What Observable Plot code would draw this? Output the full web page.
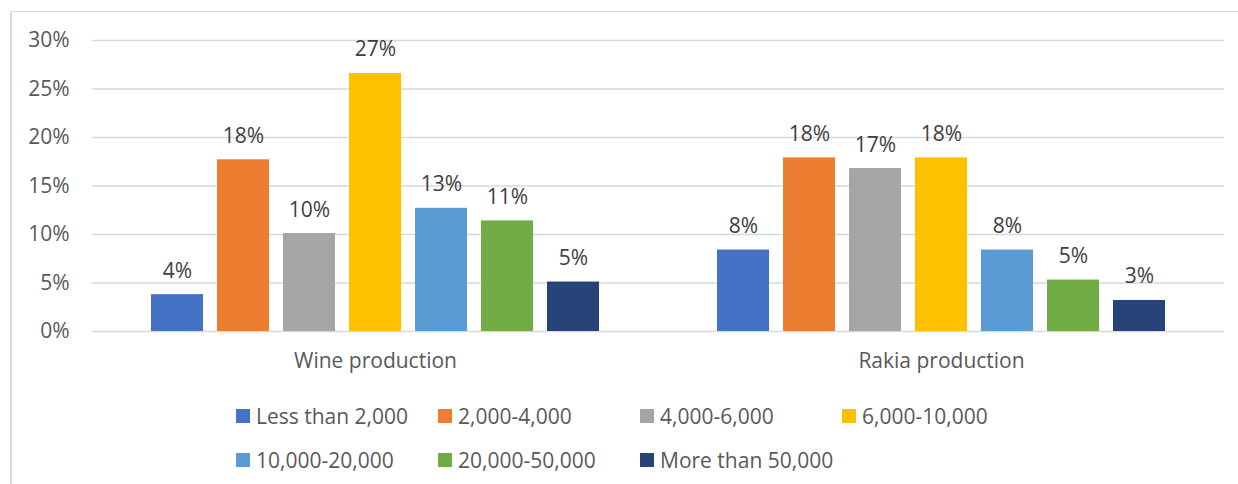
<!DOCTYPE html>
<html><head><meta charset="utf-8">
<script src="https://cdn.jsdelivr.net/npm/d3@7"></script>
<script src="https://cdn.jsdelivr.net/npm/@observablehq/plot@0.6"></script>
<style>
body{margin:0;background:#fff;font-family:"Open Sans",sans-serif;}
#wrap{position:relative;width:1238px;height:484px;overflow:hidden;background:#fff;}
#frame{position:absolute;left:10px;top:11px;width:1300px;height:600px;border-top:1px solid #d9d9d9;border-left:2px solid #d9d9d9;}
#chart{position:absolute;left:0;top:0;}
#legend{position:absolute;left:0;top:0;}
.item{position:absolute;display:flex;align-items:center;height:30px;font-size:21px;color:#595959;white-space:nowrap;}
.sw{width:14px;height:14px;margin-right:6px;flex:none;}
</style></head><body>
<div id="wrap"><div id="frame"></div><div id="chart"></div><div id="legend"></div></div>
<script>
const groups = ["Wine production", "Rakia production"];
const series = ["Less than 2,000", "2,000-4,000", "4,000-6,000", "6,000-10,000", "10,000-20,000", "20,000-50,000", "More than 50,000"];
const wineValues = [3.8, 17.7, 10.1, 26.6, 12.7, 11.4, 5.1];
const rakiaValues = [8.4, 17.9, 16.8, 17.9, 8.4, 5.3, 3.2];
const colors = ["#4472C4", "#ED7D31", "#A5A5A5", "#FFC000", "#5B9BD5", "#70AD47", "#264478"];
const yTicks = [0, 5, 10, 15, 20, 25, 30];

const rows = [];
series.forEach((s, i) => rows.push({group: groups[0], series: s, value: wineValues[i]}));
series.forEach((s, i) => rows.push({group: groups[1], series: s, value: rakiaValues[i]}));

const chart = Plot.plot({
  width: 1238,
  height: 381,
  marginLeft: 92,
  marginRight: 14,
  marginTop: 40,
  marginBottom: 50,
  style: {fontFamily: "'Open Sans', sans-serif", fontSize: "21px", color: "#595959", background: "transparent", overflow: "visible"},
  fx: {domain: groups, padding: 0, label: null},
  x: {domain: series, paddingInner: 0.21, paddingOuter: 0.86, axis: null, label: null},
  y: {domain: [0, 30], label: null},
  color: {domain: series, range: colors},
  marks: [
    Plot.gridY(yTicks, {stroke: "#d9d9d9", strokeOpacity: 1, strokeWidth: 1.5}),
    Plot.axisY(yTicks, {tickSize: 0, tickPadding: 23, tickFormat: d => d + "%", fill: "#595959", fontSize: 21}),
    Plot.axisFx({anchor: "bottom", tickSize: 0, tickPadding: 22, fill: "#595959", fontSize: 21}),
    Plot.barY(rows, {fx: "group", x: "series", y: "value", fill: "series"}),
    Plot.text(rows, {fx: "group", x: "series", y: "value", text: d => Math.round(d.value) + "%", lineAnchor: "bottom", dy: -17, fill: "#404040", fontSize: 21})
  ]
});
document.getElementById("chart").appendChild(chart);

const legend = document.getElementById("legend");
series.forEach((s, i) => {
  const col = i % 4, row = Math.floor(i / 4);
  const item = document.createElement("div");
  item.className = "item";
  item.style.left = (236 + col * 202) + "px";
  item.style.top = (401 + row * 44) + "px";
  const sw = document.createElement("span");
  sw.className = "sw";
  sw.style.background = colors[i];
  const t = document.createElement("span");
  t.textContent = s;
  item.appendChild(sw);
  item.appendChild(t);
  legend.appendChild(item);
});
</script>
</body></html>
